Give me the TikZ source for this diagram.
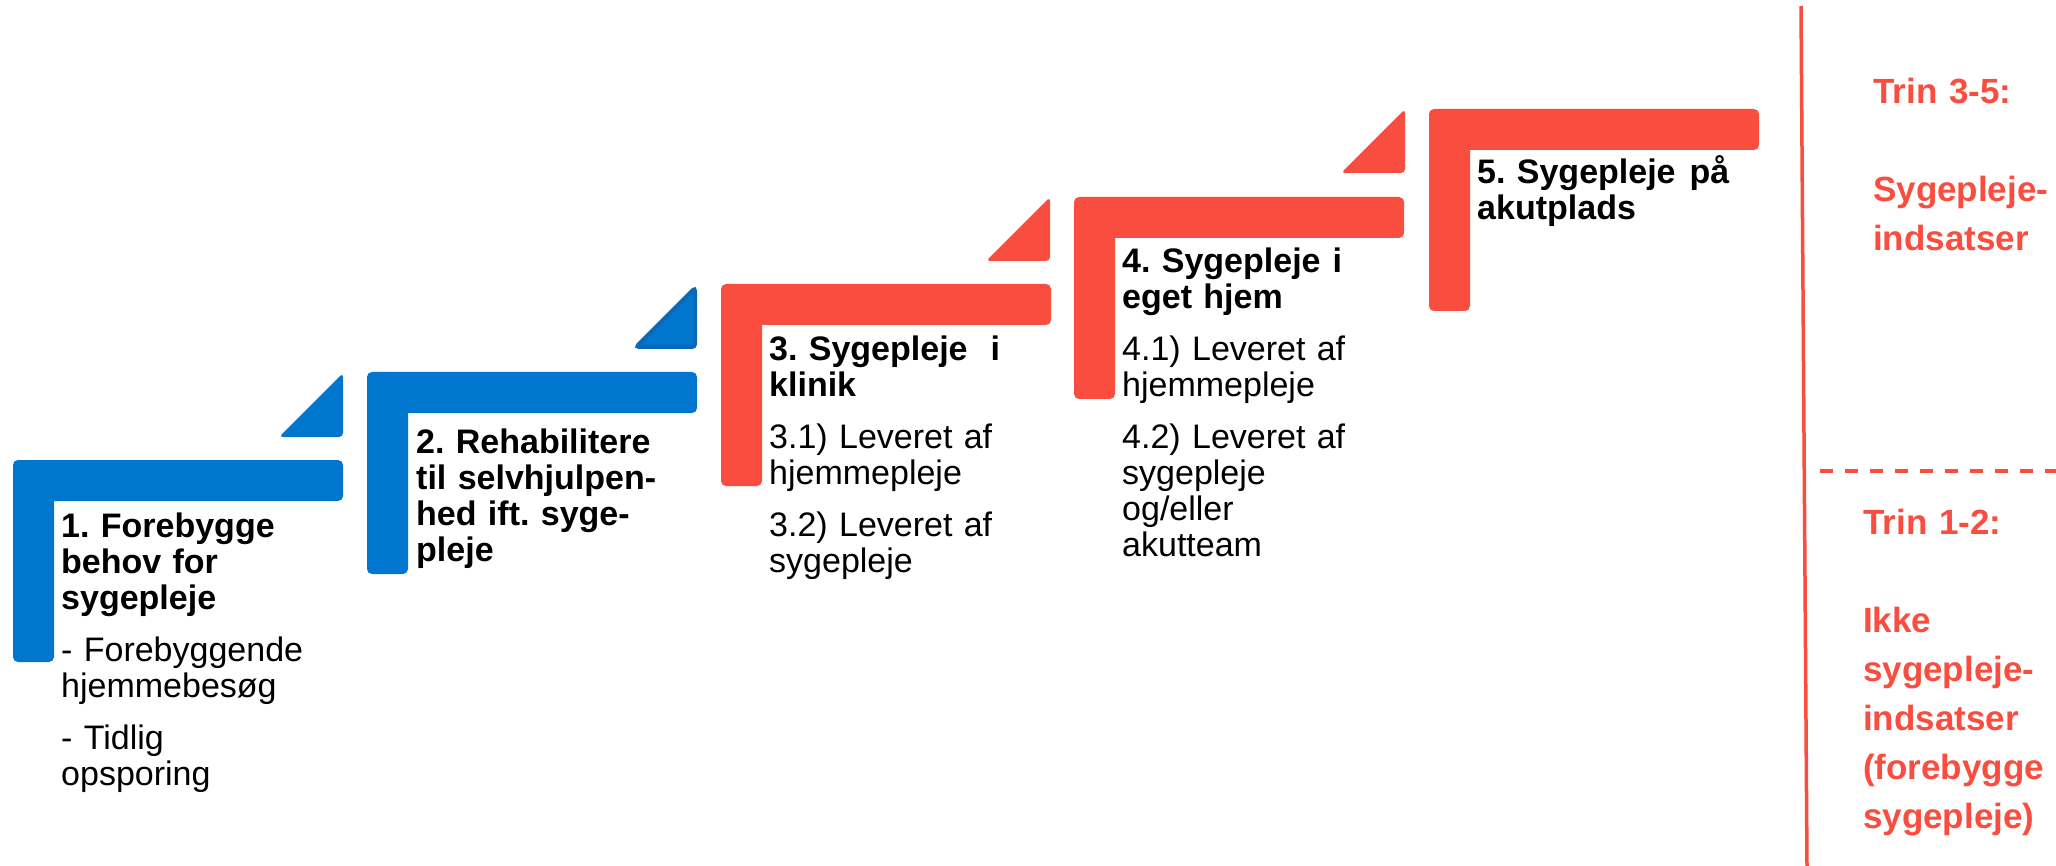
\documentclass[tikz,border=0pt]{standalone}
\usepackage{fontspec}
\setmainfont{Liberation Sans}
\frenchspacing
\definecolor{stepblue}{RGB}{0,118,206}
\definecolor{stepbluedark}{RGB}{12,104,182}
\definecolor{stepred}{RGB}{249,77,63}
\tikzset{
  steptext/.style={anchor=base west, inner sep=0pt, text width=340pt, align=left,
    font=\fontsize{34pt}{36pt}\selectfont\frenchspacing},
  sidetext/.style={anchor=base west, inner sep=0pt, text width=200pt, align=left,
    text=stepred, font=\fontsize{35pt}{49pt}\selectfont\bfseries\frenchspacing},
  divider/.style={draw=stepred, line width=3.5pt},
  dashdivider/.style={draw=stepred, line width=4pt, dash pattern=on 13pt off 12pt},
}
% L-shaped step: #1 left, #2 top, #3 colour
\newcommand\stepshape[3]{%
  \fill[#3, rounded corners=5pt] (#1+150,#2) -- (#1+330,#2) -- (#1+330,#2+41)
    [sharp corners] -- (#1+41,#2+41) [rounded corners=5pt] -- (#1+41,#2+202)
    -- (#1,#2+202) -- (#1,#2) -- cycle;}
% triangle: #1 right x, #2 bottom y, #3 colour
\newcommand\steptri[3]{%
  \fill[#3, rounded corners=4pt] (#1-30,#2) -- (#1-64,#2) -- (#1,#2-64) -- (#1,#2) -- cycle;}
\begin{document}
\begin{tikzpicture}[x=1pt, y=-1pt]
\useasboundingbox (0,0) rectangle (2056,866);
\fill[white] (0,0) rectangle (2056,866);

% steps
\stepshape{13}{460}{stepblue}
\stepshape{367}{372}{stepblue}
\stepshape{721}{284}{stepred}
\stepshape{1074}{197}{stepred}
\stepshape{1429}{109}{stepred}

% triangles
\steptri{343}{437}{stepblue}
\filldraw[fill=stepblue, draw=stepbluedark, line width=4pt, rounded corners=3pt]
  (665,347) -- (636,347) -- (695,288) -- (695,347) -- cycle;
\steptri{1050}{261}{stepred}
\steptri{1405}{173}{stepred}

% step texts
\node[steptext] (t1) at (61,537) {{\bfseries 1. Forebygge\\behov for\\sygepleje}\\[16pt]- Forebyggende\\hjemmebesøg\\[16pt]- Tidlig\\opsporing};
\node[steptext] (t2) at (416,453) {{\bfseries 2. Rehabilitere\\til selvhjulpen-\\hed ift. syge-\\pleje}};
\node[steptext] (t3) at (769,361) {{\bfseries 3. Sygepleje\hspace*{23pt}i\\klinik}\\[16pt]3.1) Leveret af\\hjemmepleje\\[16pt]3.2) Leveret af\\sygepleje};
\node[steptext] (t4) at (1122,273) {{\bfseries 4. Sygepleje\hspace*{12pt}i\\eget hjem}\\[16pt]4.1) Leveret af\\hjemmepleje\\[16pt]4.2) Leveret af\\sygepleje\\og/eller\\akutteam};
\node[steptext] (t5) at (1477,184) {{\bfseries 5. Sygepleje\hspace*{14pt}på\\akutplads}};

% divider
\coordinate (vtop) at (1801,6);
\coordinate (vbot) at (1807,866);
\draw[divider] (vtop) -- (vbot);
\coordinate (dl) at (1820,471);
\coordinate (dr) at (2056,471);
\draw[dashdivider] (dl) -- (dr);

% side texts
\node[sidetext] (s1) at (1873,104) {Trin 3-5:\\[49pt]Sygepleje-\\indsatser};
\node[sidetext] (s2) at (1863,534) {Trin 1-2:\\[49pt]Ikke\\sygepleje-\\indsatser\\(forebygge\\sygepleje)};
\end{tikzpicture}
\end{document}
